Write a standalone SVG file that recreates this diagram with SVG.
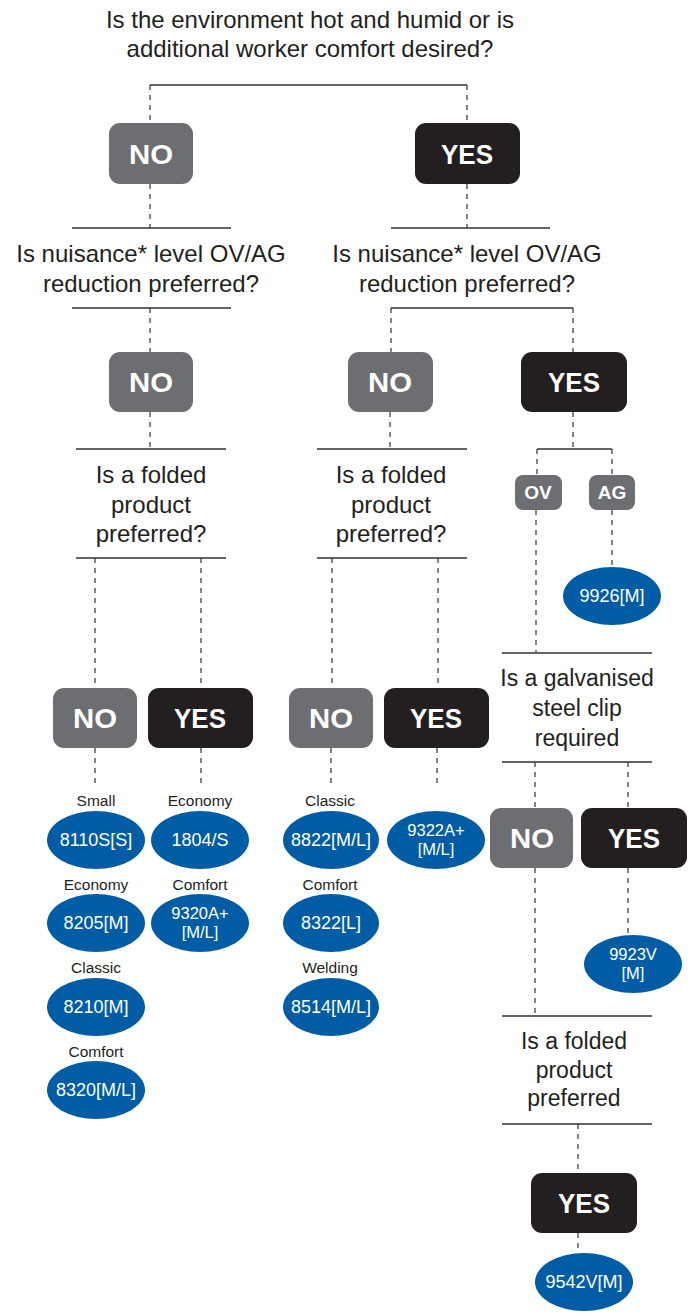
<svg xmlns="http://www.w3.org/2000/svg" width="693" height="1316" viewBox="0 0 693 1316">
<style>
.q{font-family:"Liberation Sans",Arial,sans-serif;font-size:24px;fill:#231f20;text-anchor:middle}
.q2{font-family:"Liberation Sans",Arial,sans-serif;font-size:23px;fill:#231f20;text-anchor:middle}
.bt{font-family:"Liberation Sans",Arial,sans-serif;font-size:28px;font-weight:bold;fill:#fff;text-anchor:middle}
.st{font-family:"Liberation Sans",Arial,sans-serif;font-size:19px;font-weight:bold;fill:#fff;text-anchor:middle}
.lb{font-family:"Liberation Sans",Arial,sans-serif;font-size:15.5px;fill:#231f20;text-anchor:middle}
.pt{font-family:"Liberation Sans",Arial,sans-serif;font-size:18px;fill:#fff;text-anchor:middle}
.p2{font-family:"Liberation Sans",Arial,sans-serif;font-size:16.5px;fill:#fff;text-anchor:middle}
.no{fill:#6d6e71}
.yes{fill:#231f20}
.el{fill:#005da5}
.sol{stroke:#333;stroke-width:1.5;fill:none}
.dash{stroke:#333;stroke-width:1.2;stroke-dasharray:5 5;fill:none}
</style>
<g id="connectors">
<path class="sol" d="M150,85H467"/>
<path class="dash" d="M150,85V123M467,85V123M150,184V228M467,184V228"/>
<path class="sol" d="M72,228H231M391,228H550"/>
<path class="sol" d="M72,308H231M391,308H573"/>
<path class="dash" d="M150,308V352M391,308V352M573,308V352"/>
<path class="dash" d="M150,412V449M390,412V449M573,412V449"/>
<path class="sol" d="M76,449H226M317,449H467M537,449H612"/>
<path class="dash" d="M537,449V475M612,449V475"/>
<path class="sol" d="M76,558H226M317,558H467"/>
<path class="dash" d="M95,558V688M201,558V688M332,558V688M438,558V688"/>
<path class="dash" d="M95,748V785M201,748V785M331,748V785M437,748V785"/>
<path class="dash" d="M612,510V567M536,510V653"/>
<path class="sol" d="M502,653H652M502,762H652"/>
<path class="dash" d="M535,762V808M628,762V808"/>
<path class="dash" d="M628,868V935M535,868V1016"/>
<path class="sol" d="M502,1016H652M502,1124H652"/>
<path class="dash" d="M578,1124V1173M578,1233V1253"/>
</g>
<g id="q1"><text class="q" x="310" y="28">Is the environment hot and humid or is</text><text class="q" x="310" y="57">additional worker comfort desired?</text></g>
<g id="no1"><rect class="no" x="109" y="123" width="84" height="61" rx="11"/><text class="bt" x="151" y="164" textLength="44" lengthAdjust="spacingAndGlyphs">NO</text></g>
<g id="yes1"><rect class="yes" x="415" y="123" width="105" height="61" rx="11"/><text class="bt" x="467" y="164" textLength="52" lengthAdjust="spacingAndGlyphs">YES</text></g>
<g id="q2a"><text class="q" x="151" y="262">Is nuisance* level OV/AG</text><text class="q" x="151" y="292">reduction preferred?</text></g>
<g id="q2b"><text class="q" x="467" y="262">Is nuisance* level OV/AG</text><text class="q" x="467" y="292">reduction preferred?</text></g>
<g id="no2a"><rect class="no" x="109" y="352" width="84" height="60" rx="11"/><text class="bt" x="151" y="392" textLength="44" lengthAdjust="spacingAndGlyphs">NO</text></g>
<g id="no2b"><rect class="no" x="348" y="352" width="85" height="60" rx="11"/><text class="bt" x="390" y="392" textLength="44" lengthAdjust="spacingAndGlyphs">NO</text></g>
<g id="yes2"><rect class="yes" x="521" y="352" width="106" height="60" rx="11"/><text class="bt" x="574" y="392" textLength="52" lengthAdjust="spacingAndGlyphs">YES</text></g>
<g id="q3a"><text class="q" x="151" y="483">Is a folded</text><text class="q" x="151" y="513">product</text><text class="q" x="151" y="542">preferred?</text></g>
<g id="q3b"><text class="q" x="391" y="483">Is a folded</text><text class="q" x="391" y="513">product</text><text class="q" x="391" y="542">preferred?</text></g>
<g id="ov"><rect class="no" x="515" y="475" width="47" height="35" rx="8"/><text class="st" x="538" y="499">OV</text></g>
<g id="ag"><rect class="no" x="589" y="475" width="46" height="35" rx="8"/><text class="st" x="612" y="499">AG</text></g>
<g id="p9926"><ellipse class="el" cx="612" cy="596" rx="49" ry="29"/><text class="pt" x="612" y="602">9926[M]</text></g>
<g id="no3a"><rect class="no" x="53" y="688" width="84" height="60" rx="11"/><text class="bt" x="95" y="728" textLength="44" lengthAdjust="spacingAndGlyphs">NO</text></g>
<g id="yes3a"><rect class="yes" x="148" y="688" width="105" height="60" rx="11"/><text class="bt" x="200" y="728" textLength="52" lengthAdjust="spacingAndGlyphs">YES</text></g>
<g id="no3b"><rect class="no" x="289" y="688" width="84" height="60" rx="11"/><text class="bt" x="331" y="728" textLength="44" lengthAdjust="spacingAndGlyphs">NO</text></g>
<g id="yes3b"><rect class="yes" x="384" y="688" width="105" height="60" rx="11"/><text class="bt" x="436" y="728" textLength="52" lengthAdjust="spacingAndGlyphs">YES</text></g>
<g id="q4"><text class="q2" x="577" y="686">Is a galvanised</text><text class="q2" x="577" y="716">steel clip</text><text class="q2" x="577" y="746">required</text></g>
<g id="p8110"><text class="lb" x="96" y="806">Small</text><ellipse class="el" cx="96" cy="840" rx="49" ry="29"/><text class="pt" x="96" y="846">8110S[S]</text></g>
<g id="p8205"><text class="lb" x="96" y="890">Economy</text><ellipse class="el" cx="96" cy="923" rx="49" ry="29"/><text class="pt" x="96" y="929">8205[M]</text></g>
<g id="p8210"><text class="lb" x="96" y="973">Classic</text><ellipse class="el" cx="96" cy="1007" rx="49" ry="29"/><text class="pt" x="96" y="1013">8210[M]</text></g>
<g id="p8320"><text class="lb" x="96" y="1057">Comfort</text><ellipse class="el" cx="96" cy="1090" rx="49" ry="29"/><text class="pt" x="96" y="1096">8320[M/L]</text></g>
<g id="p1804"><text class="lb" x="200" y="806">Economy</text><ellipse class="el" cx="200" cy="840" rx="49" ry="29"/><text class="pt" x="200" y="846">1804/S</text></g>
<g id="p9320"><text class="lb" x="200" y="890">Comfort</text><ellipse class="el" cx="200" cy="923" rx="49" ry="29"/><text class="p2" x="200" y="919">9320A+</text><text class="p2" x="200" y="938">[M/L]</text></g>
<g id="p8822"><text class="lb" x="330" y="806">Classic</text><ellipse class="el" cx="331" cy="840" rx="48" ry="29"/><text class="pt" x="331" y="846">8822[M/L]</text></g>
<g id="p8322"><text class="lb" x="330" y="890">Comfort</text><ellipse class="el" cx="331" cy="923" rx="48" ry="29"/><text class="pt" x="331" y="929">8322[L]</text></g>
<g id="p8514"><text class="lb" x="330" y="973">Welding</text><ellipse class="el" cx="331" cy="1007" rx="48" ry="29"/><text class="pt" x="331" y="1013">8514[M/L]</text></g>
<g id="p9322"><ellipse class="el" cx="436" cy="840" rx="49" ry="29"/><text class="p2" x="436" y="836">9322A+</text><text class="p2" x="436" y="855">[M/L]</text></g>
<g id="no4"><rect class="no" x="490" y="808" width="83" height="60" rx="11"/><text class="bt" x="532" y="848" textLength="44" lengthAdjust="spacingAndGlyphs">NO</text></g>
<g id="yes4"><rect class="yes" x="581" y="808" width="106" height="60" rx="11"/><text class="bt" x="634" y="848" textLength="52" lengthAdjust="spacingAndGlyphs">YES</text></g>
<g id="p9923"><ellipse class="el" cx="633" cy="964" rx="49" ry="29"/><text class="p2" x="633" y="960">9923V</text><text class="p2" x="633" y="979">[M]</text></g>
<g id="q5"><text class="q2" x="574" y="1049">Is a folded</text><text class="q2" x="574" y="1078">product</text><text class="q2" x="574" y="1106">preferred</text></g>
<g id="yes5"><rect class="yes" x="531" y="1173" width="106" height="60" rx="11"/><text class="bt" x="584" y="1213" textLength="52" lengthAdjust="spacingAndGlyphs">YES</text></g>
<g id="p9542"><ellipse class="el" cx="584" cy="1282" rx="49" ry="29"/><text class="pt" x="584" y="1288">9542V[M]</text></g>
</svg>
